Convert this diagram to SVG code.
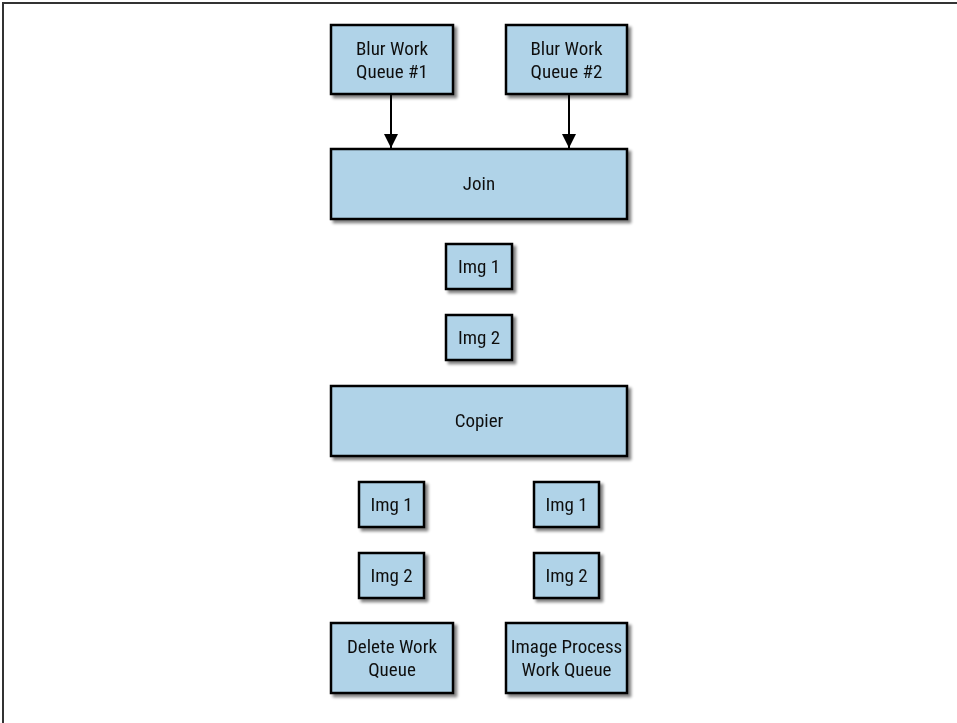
<svg xmlns="http://www.w3.org/2000/svg" width="957" height="723" viewBox="0 0 957 723">
<style>
.box{fill:#b0d3e8;stroke:#000;stroke-width:2.5}
.t{font-family:"Liberation Sans Narrow","Roboto Condensed","Liberation Sans",sans-serif;font-size:19px;fill:#111;text-anchor:middle}
.c{stroke:#000;stroke-width:2;fill:none}
</style>
<defs>
<filter id="sh" x="-10%" y="-10%" width="130%" height="140%">
<feGaussianBlur in="SourceAlpha" stdDeviation="1.5"/>
<feOffset dx="3" dy="3" result="b"/>
<feComponentTransfer><feFuncA type="linear" slope="0.5"/></feComponentTransfer>
<feMerge><feMergeNode/><feMergeNode in="SourceGraphic"/></feMerge>
</filter>
<marker id="ah" markerWidth="14" markerHeight="14" refX="14" refY="7" orient="auto" markerUnits="userSpaceOnUse" viewBox="0 0 14 14">
<path d="M0,0 L14,7 L0,14 z" fill="#000"/>
</marker>
</defs>
<rect width="957" height="723" fill="#fff"/>
<path d="M3,723 V3 H957" stroke="#333" stroke-width="2" fill="none"/>
<g id="connectors">
<line class="c" x1="391" y1="95" x2="391" y2="148" marker-end="url(#ah)"/>
<line class="c" x1="569" y1="95" x2="569" y2="148" marker-end="url(#ah)"/>
</g>
<g id="blur1" filter="url(#sh)"><rect class="box" x="331" y="25" width="122" height="69"/><text class="t" x="392" y="55">Blur Work</text><text class="t" x="392" y="78">Queue #1</text></g>
<g id="blur2" filter="url(#sh)"><rect class="box" x="506" y="25" width="121" height="69"/><text class="t" x="566.5" y="55">Blur Work</text><text class="t" x="566.5" y="78">Queue #2</text></g>
<g id="join" filter="url(#sh)"><rect class="box" x="331" y="149" width="296" height="70"/><text class="t" x="479" y="190">Join</text></g>
<g id="img1" filter="url(#sh)"><rect class="box" x="446" y="244" width="66" height="45"/><text class="t" x="479" y="273">Img 1</text></g>
<g id="img2" filter="url(#sh)"><rect class="box" x="446" y="315" width="66" height="45"/><text class="t" x="479" y="344">Img 2</text></g>
<g id="copier" filter="url(#sh)"><rect class="box" x="331" y="386" width="296" height="70"/><text class="t" x="479" y="427">Copier</text></g>
<g id="img1l" filter="url(#sh)"><rect class="box" x="359" y="482" width="65" height="45"/><text class="t" x="391.5" y="511">Img 1</text></g>
<g id="img2l" filter="url(#sh)"><rect class="box" x="359" y="553" width="65" height="45"/><text class="t" x="391.5" y="582">Img 2</text></g>
<g id="img1r" filter="url(#sh)"><rect class="box" x="534" y="482" width="65" height="45"/><text class="t" x="566.5" y="511">Img 1</text></g>
<g id="img2r" filter="url(#sh)"><rect class="box" x="534" y="553" width="65" height="45"/><text class="t" x="566.5" y="582">Img 2</text></g>
<g id="delete" filter="url(#sh)"><rect class="box" x="331" y="623" width="122" height="70"/><text class="t" x="392" y="653">Delete Work</text><text class="t" x="392" y="676">Queue</text></g>
<g id="imgproc" filter="url(#sh)"><rect class="box" x="506" y="623" width="121" height="70"/><text class="t" x="566.5" y="653">Image Process</text><text class="t" x="566.5" y="676">Work Queue</text></g>
</svg>
